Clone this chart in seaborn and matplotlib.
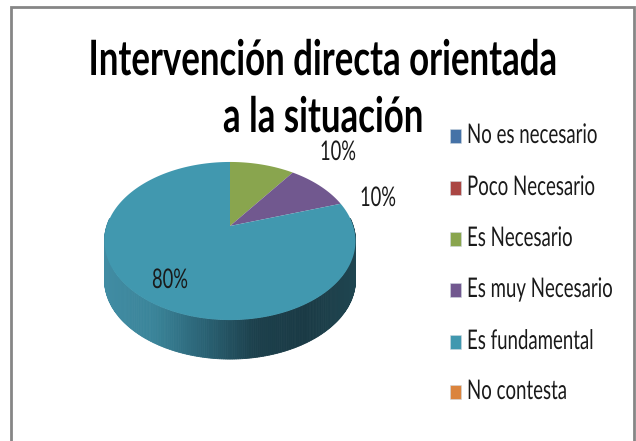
import numpy as np
import matplotlib
matplotlib.use("Agg")
import matplotlib.pyplot as plt
import seaborn as sns
from matplotlib.patheffects import AbstractPathEffect
from matplotlib.transforms import Affine2D
from matplotlib.patches import Rectangle

categories = ["No es necesario", "Poco Necesario", "Es Necesario", "Es muy Necesario", "Es fundamental", "No contesta"]
values = [0, 0, 10, 10, 80, 0]
colors = ["#4572A7", "#AA4643", "#89A54E", "#71588F", "#4198AF", "#DB843D"]
title_lines = ["Intervención directa orientada", "a la situación"]

sns.set_theme(style="white")
plt.rcParams["font.family"] = ["Lato", "DejaVu Sans"]

W, H = 636, 441
fig = plt.figure(figsize=(W / 100, H / 100), dpi=100)
ax = fig.add_axes([0, 0, 1, 1])
ax.set_xlim(0, W)
ax.set_ylim(H, 0)
ax.axis("off")


class Stretch(AbstractPathEffect):
    """Stretch a text about its own anchor (the reference text is tall and narrow)."""
    def __init__(self, sx, sy, anchor):
        super().__init__()
        self.sx, self.sy, self.anchor = sx, sy, anchor

    def draw_path(self, renderer, gc, tpath, affine, rgbFace=None):
        x, y = self.anchor
        t = affine + Affine2D().translate(-x, -y).scale(self.sx, self.sy).translate(x, y)
        renderer.draw_path(gc, tpath, t, rgbFace)


def label(x, y, s, size, sx=1.0, sy=1.0, color="#1a1a1a", ha="left", weight="normal"):
    t = ax.text(x, y, s, fontsize=size, color=color, ha=ha, va="baseline", weight=weight)
    t.set_path_effects([Stretch(sx, sy, ax.transData.transform((x, y)))])
    return t


# frame
ax.plot([11, 11, 633.5, 633.5], [H, 7, 7, H], color="#868686", lw=2, solid_joinstyle="miter")

# pie geometry: a disc seen in perspective
CX, CY, A, B, K, DEPTH = 230.0, 226.0, 123.2, 76.2, 0.19, 39.0


def project(theta):
    u, v = np.sin(theta), np.cos(theta)
    d = 1 + K * v
    return CX + A * u / d, CY - B * v / d


total = sum(values)
fractions = np.cumsum([0] + values) / total * 2 * np.pi

# side wall, drawn as a gradient running along the front rim
side_palette = sns.blend_palette(["#418CA3", "#3A8499", "#2A6274", "#1C404C", "#1A3A45", "#1F4550"], 200)
theta = np.linspace(np.pi / 2 - 0.1, 3 * np.pi / 2 + 0.1, 241)
px, py = project(theta)
for i in range(240):
    frac = (px[i] - 104) / 251
    c = side_palette[int(np.clip(frac, 0, 1) * 199)]
    ax.fill([px[i], px[i + 1], px[i + 1], px[i]],
            [py[i], py[i + 1], py[i + 1] + DEPTH, py[i] + DEPTH],
            color=c, lw=0.6, ec=c, zorder=2)

# top face
for i, (val, col) in enumerate(zip(values, colors)):
    if val == 0:
        continue
    th = np.linspace(fractions[i], fractions[i + 1], 200)
    x, y = project(th)
    ax.fill(np.r_[CX, x], np.r_[CY, y], color=col, lw=0, zorder=3)

# value labels
pct_pos = {2: (320, 160), 3: (360, 206), 4: (152, 288)}
for i, (lx, ly) in pct_pos.items():
    label(lx, ly, f"{values[i]}%", 15, sx=0.88, sy=1.3)

# title
label(322.5, 75, title_lines[0], 30, sx=0.835, sy=1.17, color="black", ha="center", weight="bold")
label(323, 132, title_lines[1], 30, sx=0.835, sy=1.17, color="black", ha="center", weight="bold")

# legend
ys = [136, 188, 239, 290, 342, 392]
for name, col, y in zip(categories, colors, ys):
    ax.add_patch(Rectangle((450, y - 7.5), 11, 14, fc=col, ec="#cfd8e0", lw=0.4))
    label(467, y + 7, name, 15, sx=0.895, sy=1.3)

fig.savefig("out.png", dpi=100, facecolor="white")
